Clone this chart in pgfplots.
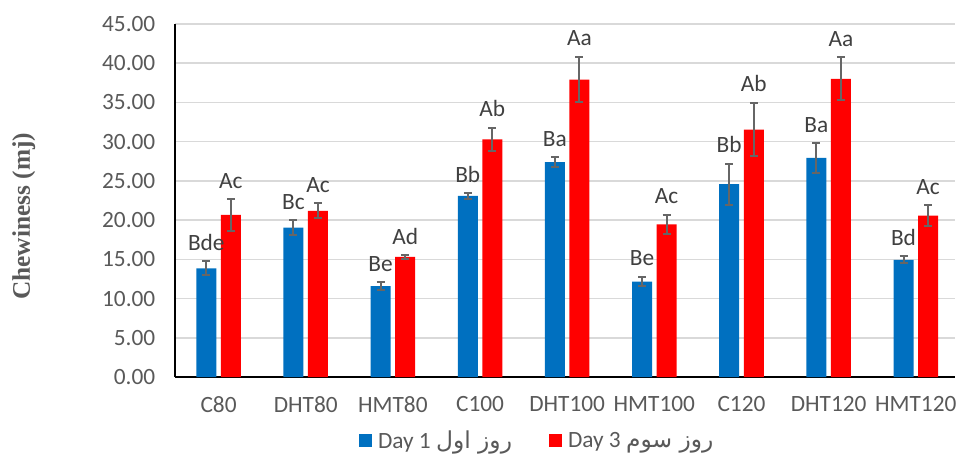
\documentclass[border=0pt]{standalone}
\usepackage{fontspec}
\setmainfont{Carlito}
\newfontfamily\arabicfont[Script=Arabic]{DejaVu Sans}
\newfontfamily\timesfont{Liberation Serif}
\TeXXeTstate=1
\usepackage{pgfplots}
\usepackage{pgfplotstable}
\pgfplotsset{compat=1.18}
\definecolor{barblue}{HTML}{0070C0}
\definecolor{barred}{HTML}{FF0000}
\definecolor{errgray}{HTML}{666666}
\definecolor{tickgray}{HTML}{595959}
\definecolor{labgray}{HTML}{404040}
\definecolor{gridgray}{HTML}{D9D9D9}
\pgfplotstableread{
x b be r re bl rl
0 13.86 0.90 20.66 2.00 Bde Ac
1 19.05 0.95 21.17 0.95 Bc Ac
2 11.57 0.50 15.30 0.20 Be Ad
3 23.10 0.35 30.30 1.50 Bb Ab
4 27.40 0.60 37.90 2.90 Ba Aa
5 12.16 0.60 19.47 1.20 Be Ac
6 24.58 2.60 31.55 3.40 Bb Ab
7 27.93 1.90 38.00 2.75 Ba Aa
8 14.92 0.45 20.58 1.30 Bd Ac
}\datatable
\begin{document}
\begin{tikzpicture}
\begin{axis}[
  scale only axis,
  width=585pt, height=264.75pt,
  xmin=-0.5, xmax=8.45,
  ymin=0, ymax=45,
  ytick={0,5,...,45},
  xtick={0,...,8},
  xticklabels={C80,DHT80,HMT80,C100,DHT100,HMT100,C120,DHT120,HMT120},
  axis lines*=left,
  axis line style={black, line width=1.2pt},
  tick style={draw=none},
  ymajorgrids,
  major grid style={gridgray, line width=1.1pt},
  clip=false,
  /pgf/number format/assume math mode=true,
  yticklabel={\pgfmathprintnumber[fixed, fixed zerofill, precision=2]{\tick}},
  ticklabel style={font=\fontsize{17.5}{21}\selectfont, text=tickgray},
  yticklabel style={anchor=east, xshift=-11.25pt},
  xticklabel style={yshift=-11.25pt},
  ylabel={Chewiness (mj)},
  ylabel style={at={(axis description cs:-0.194,0.455)}, anchor=center,
    font=\timesfont\bfseries\fontsize{19}{23}\selectfont, text=tickgray},
  legend columns=2,
  legend style={draw=none, fill=none, at={(rel axis cs:0.465,-0.181)}, anchor=center,
    font=\fontsize{17.5}{21}\selectfont, text=tickgray,
    /tikz/every even column/.append style={column sep=26pt}},
  legend image code/.code={\fill[#1] (0pt,-4.875pt) rectangle (9.75pt,4.875pt); \path (12pt,0pt);},
  nodes near coords style={font=\fontsize{17.5}{21}\selectfont, text=labgray, anchor=base, yshift=8.25pt},
]
\addplot[ybar, bar width=15pt, bar shift=-9.2pt, fill=barblue, draw=none,
  error bars/.cd, y dir=both, y explicit,
  error bar style={errgray, line width=1.5pt, xshift=-9.2pt},
  error mark options={rotate=90, mark size=3pt, line width=1.5pt, errgray}]
  table[x=x, y=b, y error=be] {\datatable};
\addlegendentry{Day 1 {\arabicfont\beginR روز اول\endR}}
\addplot[ybar, bar width=15pt, bar shift=9.2pt, fill=barred, draw=none,
  error bars/.cd, y dir=both, y explicit,
  error bar style={errgray, line width=1.5pt, xshift=9.2pt},
  error mark options={rotate=90, mark size=3pt, line width=1.5pt, errgray}]
  table[x=x, y=r, y error=re] {\datatable};
\addlegendentry{Day 3 {\arabicfont\beginR روز سوم\endR}}
\addplot[forget plot, only marks, mark=none, nodes near coords, point meta=explicit symbolic]
  table[x expr=\thisrow{x}-0.141, y expr=\thisrow{b}+\thisrow{be}, meta=bl] {\datatable};
\addplot[forget plot, only marks, mark=none, nodes near coords, point meta=explicit symbolic]
  table[x expr=\thisrow{x}+0.141, y expr=\thisrow{r}+\thisrow{re}, meta=rl] {\datatable};
\coordinate (SW) at (rel axis cs:0,0);
\coordinate (NE) at (rel axis cs:1,1);
\end{axis}
\pgfresetboundingbox
\path[use as bounding box] ([xshift=-131.25pt,yshift=-60pt]SW) rectangle ([xshift=1.5pt,yshift=18pt]NE);
\end{tikzpicture}
\end{document}
